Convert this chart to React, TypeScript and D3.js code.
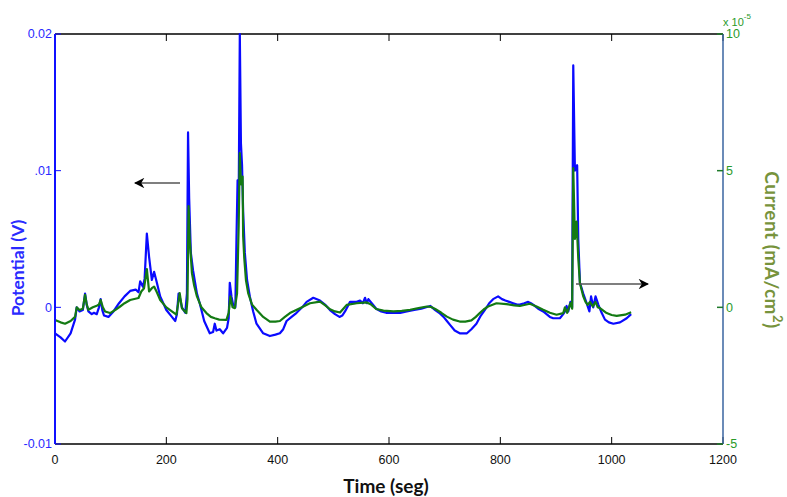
import { useEffect, useRef } from "react"
import * as d3 from "d3"

// blue trace: potential (V)
const potTime = [0, 10, 18, 28, 36, 39, 44, 50, 54, 57, 60, 66, 70, 75, 79, 82, 85, 88, 96, 105, 115, 125, 135, 145, 150, 153, 158, 161, 165, 169, 174, 178, 183, 189, 200, 210, 216, 219, 222, 225, 228, 234, 237, 239, 241, 244, 248, 255, 260, 268, 278, 284, 287, 290, 296, 302, 309, 312, 314, 317, 320, 324, 326, 328, 330, 332, 334, 336, 338, 341, 345, 350, 356, 362, 374, 386, 396, 404, 410, 416, 425, 434, 444, 452, 464, 476, 485, 494, 503, 511, 516, 521, 530, 536, 542, 548, 553, 557, 560, 563, 569, 577, 586, 595, 608, 620, 632, 643, 658, 674, 683, 690, 698, 704, 710, 718, 727, 740, 748, 757, 765, 772, 780, 787, 796, 803, 809, 816, 823, 830, 835, 843, 850, 855, 859, 868, 877, 889, 895, 907, 913, 916, 919, 922, 926, 929, 931, 934, 938, 940, 943, 949, 955, 960, 963, 967, 971, 976, 982, 988, 995, 1003, 1015, 1027, 1035]
const potential = [-0.0019, -0.0022, -0.0025, -0.0019, -0.0009, 0.0, -0.0003, -0.0002, 0.001, 0.0002, -0.0003, -0.0005, -0.0004, -0.0005, 0.0, 0.0006, -0.0002, -0.0006, -0.0007, -0.0003, 0.0003, 0.0008, 0.0012, 0.0013, 0.0011, 0.0019, 0.0015, 0.0021, 0.0054, 0.0037, 0.002, 0.0026, 0.0018, 0.0008, -0.0002, -0.0007, -0.001, -0.0005, 0.001, 0.0006, 0.0, -0.0004, 0.001, 0.0128, 0.008, 0.004, 0.0027, 0.001, 0.0003, -0.001, -0.0019, -0.0018, -0.0012, -0.0017, -0.0016, -0.0019, -0.0015, -0.0008, 0.0018, 0.0008, 0.0002, 0.0, 0.005, 0.0093, 0.008, 0.02, 0.012, 0.0104, 0.007, 0.004, 0.002, 0.0008, -0.0003, -0.0012, -0.0019, -0.0021, -0.002, -0.0019, -0.0016, -0.001, -0.0007, -0.0004, 0.0, 0.0004, 0.0007, 0.0005, 0.0002, -0.0002, -0.0005, -0.0007, -0.0006, -0.0003, 0.0004, 0.0004, 0.0004, 0.0005, 0.0003, 0.0007, 0.0003, 0.0006, 0.0003, -0.0001, -0.0003, -0.0004, -0.0004, -0.0004, -0.0003, -0.0002, -0.0001, 0.0001, -0.0002, -0.0004, -0.0007, -0.001, -0.0013, -0.0017, -0.0019, -0.0019, -0.0016, -0.0012, -0.0006, -0.0002, 0.0003, 0.0006, 0.0008, 0.0006, 0.0005, 0.0004, 0.0003, 0.0002, 0.0002, 0.0003, 0.0004, 0.0003, 0.0002, -0.0001, -0.0003, -0.0007, -0.0008, -0.0008, -0.0005, -0.0003, 0.0001, -0.0003, 0.0004, 0.0, 0.0177, 0.01, 0.0104, 0.005, 0.0018, 0.001, 0.0003, -0.0003, 0.0008, 0.0, 0.0008, 0.0002, -0.0004, -0.0009, -0.0011, -0.0012, -0.0011, -0.0008, -0.0005]

// green trace: current (x 1e-5 mA/cm2)
const curTime = [0, 10, 18, 28, 36, 39, 44, 50, 54, 57, 60, 68, 75, 79, 82, 86, 90, 99, 108, 117, 125, 135, 150, 155, 160, 165, 169, 174, 178, 183, 189, 200, 210, 218, 221, 224, 228, 236, 238, 240, 242, 246, 250, 255, 263, 272, 280, 287, 295, 308, 312, 315, 319, 323, 327, 330, 332, 334, 337, 338, 340, 343, 347, 354, 362, 374, 386, 396, 404, 413, 422, 440, 458, 476, 485, 494, 503, 512, 518, 524, 542, 560, 568, 577, 590, 608, 623, 638, 653, 668, 675, 683, 694, 704, 715, 727, 737, 748, 756, 763, 770, 778, 793, 811, 825, 835, 853, 865, 877, 889, 901, 913, 916, 920, 926, 929, 931, 934, 937, 940, 943, 949, 953, 957, 961, 966, 971, 975, 979, 991, 1000, 1009, 1024, 1035]
const current = [-0.46, -0.55, -0.6, -0.5, -0.35, 0.0, -0.1, -0.05, 0.46, 0.1, -0.09, 0.0, 0.06, 0.1, 0.27, 0.0, -0.15, -0.21, -0.1, 0.03, 0.15, 0.27, 0.34, 0.58, 0.7, 1.4, 0.58, 0.7, 0.76, 0.55, 0.27, 0.0, -0.15, -0.27, 0.1, 0.52, -0.03, -0.21, 0.3, 3.7, 2.5, 1.25, 0.8, 0.4, 0.0, -0.21, -0.35, -0.4, -0.45, -0.46, -0.2, 0.4, 0.0, -0.03, 0.5, 3.0, 5.64, 4.5, 4.78, 2.6, 1.8, 1.0, 0.52, 0.1, -0.09, -0.35, -0.52, -0.52, -0.5, -0.35, -0.21, -0.03, 0.15, 0.21, 0.08, -0.07, -0.15, -0.19, -0.05, 0.09, 0.15, 0.18, 0.1, -0.06, -0.12, -0.15, -0.13, -0.09, -0.03, 0.03, 0.02, -0.06, -0.2, -0.34, -0.45, -0.52, -0.52, -0.48, -0.35, -0.21, -0.08, 0.03, 0.15, 0.12, 0.07, 0.05, 0.13, 0.03, -0.09, -0.2, -0.27, -0.21, 0.0, -0.2, 0.15, -0.05, 5.09, 2.5, 3.14, 1.8, 0.88, 0.4, 0.2, 0.09, 0.2, 0.03, 0.2, 0.0, -0.03, -0.21, -0.28, -0.31, -0.27, -0.18]

const timeTicks = [0, 200, 400, 600, 800, 1000, 1200]
const potTicks = [-0.01, 0, 0.01, 0.02]
const potTickLabels = ["-0.01", "0", ".01", "0.02"]
const curTicks = [-5, 0, 5, 10]

export default function App() {
  const svgRef = useRef(null)

  useEffect(() => {
    if (!svgRef.current) return
    const svg = d3.select(svgRef.current)
    svg.selectAll("*").remove()

    const width = 787
    const height = 497
    const margin = { top: 34, right: 64, bottom: 53, left: 55 }
    const innerW = width - margin.left - margin.right
    const innerH = height - margin.top - margin.bottom
    const tickFont = "'Liberation Sans Narrow', 'Arial Narrow', 'Liberation Sans', sans-serif"
    const titleFont = "Lato, 'Open Sans', sans-serif"

    const x = d3.scaleLinear().domain([0, 1200]).range([0, innerW])
    const yL = d3.scaleLinear().domain([-0.01, 0.02]).range([innerH, 0])
    const yR = d3.scaleLinear().domain([-5, 10]).range([innerH, 0])

    const g = svg.append("g").attr("transform", `translate(${margin.left},${margin.top})`)

    // frame: top + bottom black
    g.append("line").attr("x1", 0).attr("x2", innerW).attr("y1", 0).attr("y2", 0).attr("stroke", "#000").attr("stroke-width", 1.5)
    g.append("line").attr("x1", 0).attr("x2", innerW).attr("y1", innerH).attr("y2", innerH).attr("stroke", "#000").attr("stroke-width", 1.5)

    // x ticks (inward, top and bottom)
    timeTicks.forEach((t) => {
      g.append("line").attr("x1", x(t)).attr("x2", x(t)).attr("y1", innerH).attr("y2", innerH - 7).attr("stroke", "#000")
      g.append("line").attr("x1", x(t)).attr("x2", x(t)).attr("y1", 0).attr("y2", 7).attr("stroke", "#000")
      g.append("text")
        .attr("x", x(t))
        .attr("y", innerH + 20)
        .attr("text-anchor", "middle")
        .attr("font-family", tickFont)
        .attr("font-size", "12.5px")
        .attr("fill", "#111")
        .text(t)
    })

    // data lines
    const blueLine = d3
      .line<number>()
      .x((d, i) => x(potTime[i]))
      .y((d) => yL(d))
    const greenLine = d3
      .line<number>()
      .x((d, i) => x(curTime[i]))
      .y((d) => yR(d))

    g.append("path").datum(potential).attr("d", blueLine).attr("fill", "none").attr("stroke", "#0a0aff").attr("stroke-width", 2.2).attr("stroke-linejoin", "round")
    g.append("path").datum(current).attr("d", greenLine).attr("fill", "none").attr("stroke", "#137a13").attr("stroke-width", 2.2).attr("stroke-linejoin", "round")

    // left axis (blue)
    g.append("line").attr("x1", 0).attr("x2", 0).attr("y1", 0).attr("y2", innerH).attr("stroke", "#1010ff").attr("stroke-width", 2)
    potTicks.forEach((v, i) => {
      g.append("line").attr("x1", 0).attr("x2", 6).attr("y1", yL(v)).attr("y2", yL(v)).attr("stroke", "#1010ff")
      g.append("text")
        .attr("x", -3)
        .attr("y", yL(v))
        .attr("dy", "0.35em")
        .attr("text-anchor", "end")
        .attr("font-family", tickFont)
        .attr("font-size", "12.5px")
        .attr("fill", "#2a2aff")
        .text(potTickLabels[i])
    })

    // right axis (steel blue line, green labels)
    g.append("line").attr("x1", innerW).attr("x2", innerW).attr("y1", 0).attr("y2", innerH).attr("stroke", "#3a64a0").attr("stroke-width", 1.5)
    curTicks.forEach((v) => {
      g.append("line").attr("x1", innerW - 6).attr("x2", innerW).attr("y1", yR(v)).attr("y2", yR(v)).attr("stroke", "#1f7a2a").attr("stroke-width", 1.5)
      g.append("text")
        .attr("x", innerW + 3)
        .attr("y", yR(v))
        .attr("dy", "0.35em")
        .attr("font-family", tickFont)
        .attr("font-size", "12.5px")
        .attr("fill", "#2a9a2a")
        .text(v)
    })
    const exp = g.append("text").attr("x", innerW).attr("y", -8).attr("font-family", tickFont).attr("font-size", "11px").attr("fill", "#2a9a2a")
    exp.append("tspan").text("x 10")
    exp.append("tspan").attr("dy", -7).attr("font-size", "8px").text("-5")

    // arrows
    const defs = svg.append("defs")
    defs
      .append("marker")
      .attr("id", "ah")
      .attr("viewBox", "0 0 10 10")
      .attr("refX", 9)
      .attr("refY", 5)
      .attr("markerWidth", 7)
      .attr("markerHeight", 6.5)
      .attr("orient", "auto")
      .append("path")
      .attr("d", "M0,0 L10,5 L0,10 L3,5 Z")
      .attr("fill", "#000")
    svg.append("line").attr("x1", 180).attr("x2", 135).attr("y1", 183).attr("y2", 183).attr("stroke", "#555").attr("stroke-width", 1.6).attr("marker-end", "url(#ah)")
    svg.append("line").attr("x1", 576).attr("x2", 648).attr("y1", 284).attr("y2", 284).attr("stroke", "#555").attr("stroke-width", 1.6).attr("marker-end", "url(#ah)")

    // axis titles
    svg
      .append("text")
      .attr("x", margin.left + innerW / 2 - 3)
      .attr("y", 493)
      .attr("text-anchor", "middle")
      .attr("font-family", titleFont)
      .attr("font-weight", "bold")
      .attr("font-size", "19px")
      .attr("fill", "#111")
      .text("Time (seg)")

    svg
      .append("text")
      .attr("transform", "translate(24,268) rotate(-90)")
      .attr("text-anchor", "middle")
      .attr("font-family", titleFont)
      .attr("font-weight", "bold")
      .attr("font-size", "17.5px")
      .attr("fill", "#2a2aff")
      .text("Potential (V)")

    const rt = svg
      .append("text")
      .attr("transform", "translate(765,250) rotate(90)")
      .attr("text-anchor", "middle")
      .attr("font-family", titleFont)
      .attr("font-weight", "bold")
      .attr("font-size", "19px")
      .attr("letter-spacing", "0.5px")
      .attr("fill", "#77933c")
    rt.append("tspan").text("Current (mA/cm")
    rt.append("tspan").attr("dy", -8).attr("font-size", "13px").text("2")
    rt.append("tspan").attr("dy", 8).text(")")

    svg.attr("width", width).attr("height", height).attr("viewBox", [0, 0, width, height])
  }, [])

  return (
    <div style={{ position: "absolute", left: 0, top: 0, background: "#fff" }}>
      <svg ref={svgRef} style={{ display: "block" }}></svg>
    </div>
  )
}
